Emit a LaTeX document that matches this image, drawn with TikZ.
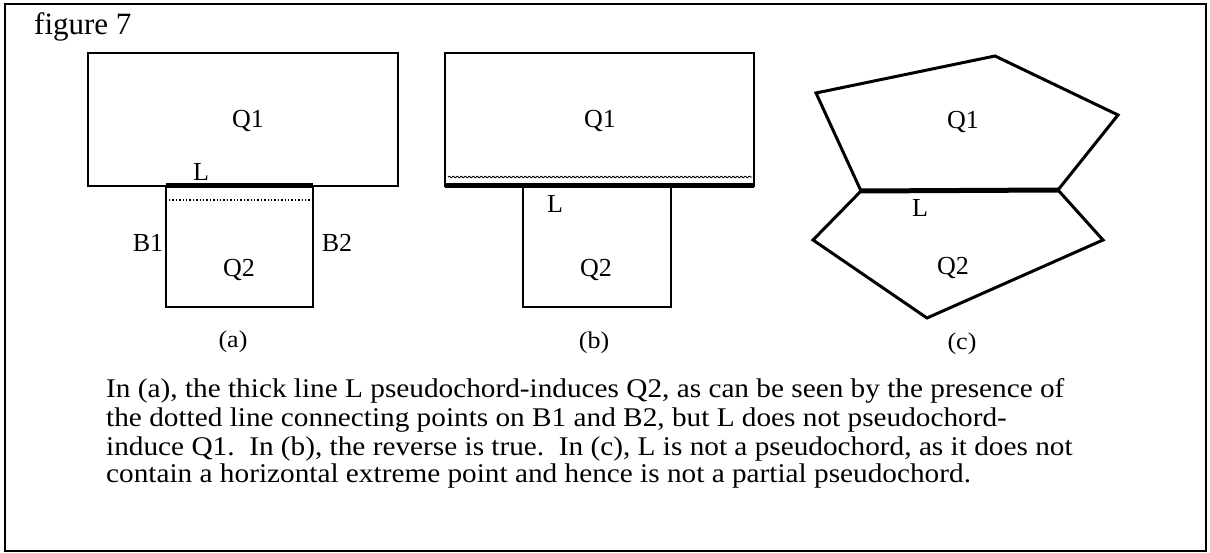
\documentclass[tikz,border=0pt]{standalone}
\usepackage{fontspec}
\setmainfont{Liberation Serif}
\newfontfamily\capfont[FakeStretch=1.084]{Liberation Serif}
\usetikzlibrary{decorations.pathmorphing}
\begin{document}
\begin{tikzpicture}[x=1pt,y=-1pt,
  outl/.style={draw,line width=2.6pt,line join=miter},
  thickL/.style={line width=5pt},
  lab/.style={font=\fontsize{26}{26}\selectfont,inner sep=0pt},
  sub/.style={font=\capfont\fontsize{24}{24}\selectfont,inner sep=0pt},
  capline/.style={anchor=base west,inner sep=0pt,font=\capfont\fontsize{27}{27}\selectfont},
  frame/.style={draw,line width=1.6pt}]
\useasboundingbox (0,0) rectangle (1210,553);
\draw[frame] (5,4) rectangle (1206,551);
\node[anchor=base west,font=\fontsize{31}{31}\selectfont,inner sep=0pt] (title) at (34,35) {figure 7};
% (a)
\coordinate (a1) at (88,53); \coordinate (a2) at (398,186);
\coordinate (a3) at (166,186); \coordinate (a4) at (313,307);
\draw[outl] (a1) rectangle (a2);
\draw[outl] (a3) rectangle (a4);
\draw[thickL] (a3) -- (a3 -| a4);
\coordinate (ad1) at (169,200); \coordinate (ad2) at (311,200);
\draw[dotted,line width=1.4pt] (ad1) -- (ad2);
\node[lab] (aQ1) at (248,121) {Q1};
\node[lab] (aL) at (201,172) {L};
\node[lab] (aB1) at (148,243) {B1};
\node[lab] (aB2) at (337,243) {B2};
\node[lab] (aQ2) at (239,270) {Q2};
\node[sub] (alab) at (233,342) {(a)};
% (b)
\coordinate (b1) at (445,53); \coordinate (b2) at (754,186);
\coordinate (b3) at (523,186); \coordinate (b4) at (671,307);
\draw[outl] (b1) rectangle (b2);
\draw[outl] (b3) rectangle (b4);
\draw[thickL] (b1 |- b2) -- (b2);
\coordinate (bw1) at (448,177); \coordinate (bw2) at (752,177);
\draw[line width=0.9pt,decorate,decoration={snake,amplitude=0.8pt,segment length=4pt}] (bw1) -- (bw2);
\node[lab] (bQ1) at (600,121) {Q1};
\node[lab] (bL) at (555,204) {L};
\node[lab] (bQ2) at (596,270) {Q2};
\node[sub] (blab) at (594,343) {(b)};
% (c)
\coordinate (c1) at (816,93); \coordinate (c2) at (995,56);
\coordinate (c3) at (1118,115); \coordinate (c4) at (1058,190);
\coordinate (c5) at (861,191); \coordinate (c6) at (1103,240);
\coordinate (c7) at (927,318); \coordinate (c8) at (813,240);
\draw[outl,line width=3pt] (c5) -- (c1) -- (c2) -- (c3) -- (c4);
\draw[outl,line width=3pt] (c5) -- (c8) -- (c7) -- (c6) -- (c4);
\draw[thickL] (c5) -- (c4);
\node[lab] (cQ1) at (963,122) {Q1};
\node[lab] (cL) at (920,208) {L};
\node[lab] (cQ2) at (953,268) {Q2};
\node[sub] (clab) at (962,344) {(c)};
% caption
\node[capline] (cap1) at (106,397) {In (a), the thick line L pseudochord-induces Q2, as can be seen by the presence of};
\node[capline] (cap2) at (106,426) {the dotted line connecting points on B1 and B2, but L does not pseudochord-};
\node[capline] (cap3) at (106,455) {induce Q1.\ \ In (b), the reverse is true.\ \ In (c), L is not a pseudochord, as it does not};
\node[capline] (cap4) at (106,482) {contain a horizontal extreme point and hence is not a partial pseudochord.};
\end{tikzpicture}
\end{document}
